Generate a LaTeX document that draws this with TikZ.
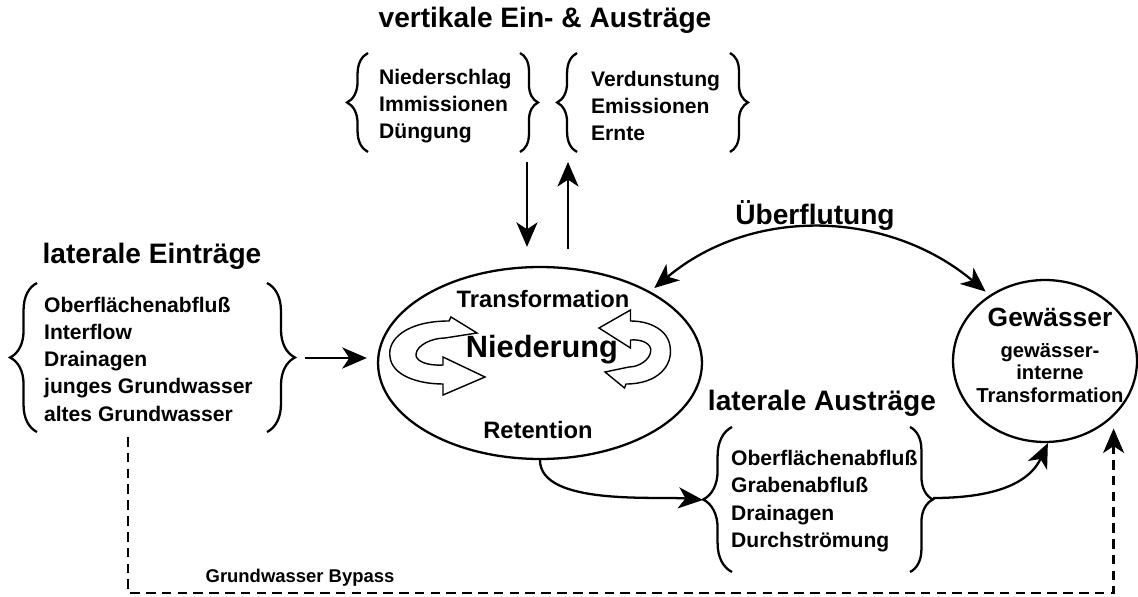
\documentclass[tikz,border=0pt]{standalone}
\usepackage{fontspec}
\setmainfont{Liberation Sans}
\usetikzlibrary{shapes.geometric,arrows.meta,decorations.pathreplacing}

\tikzset{
  titel/.style={font=\fontsize{16}{19}\selectfont\bfseries},
  liste/.style={align=left, anchor=west, inner sep=0pt,
    font=\fontsize{12}{15.5}\selectfont\bfseries},
  klammer/.style={decorate, decoration={brace, amplitude=#1}},
  gebiet/.style={ellipse, draw, inner sep=0pt},
  bypass/.style={dash pattern=on 5.5pt off 3.5pt, line width=1.4pt},
  twirl/.pic={
    \draw[fill=white, line width=0.8pt]
      (40,-24) -- (14,-40) -- (12,-36)
      .. controls (-30,-36) and (-50,-18) .. (-47,0)
      .. controls (-45,18) and (-20,27) .. (6,27)
      -- (6,38) -- (48,20) -- (6,0) -- (6,8)
      .. controls (-10,9) and (-22,4) .. (-21,-3)
      .. controls (-20,-12) and (-5,-19) .. (8,-19)
      -- cycle;
  }
}

\begin{document}
\begin{tikzpicture}[x=0.02cm, y=-0.02cm, line width=1.3pt,
    >={Stealth[length=14pt, width=12pt, inset=4pt]}]
  \useasboundingbox (0,0) rectangle (1138,597);

  % Niederung und Gewaesser
  \node[gebiet, minimum width=6.48cm, minimum height=3.84cm] (nied) at (540,363) {};
  \pic at (437,357) {twirl};
  \pic[xscale=-0.75, yscale=-1] at (635,348) {twirl};
  \node[font=\fontsize{13.5}{16}\selectfont\bfseries] (transf) at (543,299) {Transformation};
  \node[font=\fontsize{17.5}{20}\selectfont\bfseries] (niedText) at (542,350) {Niederung};
  \node[font=\fontsize{13.5}{16}\selectfont\bfseries] (ret) at (538,430) {Retention};

  \node[gebiet, minimum width=3.68cm, minimum height=3.24cm] (gew) at (1045,361) {};
  \node[font=\fontsize{15}{18}\selectfont\bfseries] (gewText) at (1050,317) {Gewässer};
  \node[align=center, font=\fontsize{11.5}{12.8}\selectfont\bfseries] (gewIntern)
    at (1050,373) {gewässer-\\interne\\Transformation};

  % vertikale Ein- & Austraege
  \node[titel] (vertTitel) at (545,20) {vertikale Ein- \& Austräge};
  \node[liste] (vEin) at (378,106) {Niederschlag\\Immissionen\\Düngung};
  \node[liste] (vAus) at (590,106) {Verdunstung\\Emissionen\\Ernte};
  \draw[klammer=11.9pt] (368,152) -- (368,53);
  \draw[klammer=10.2pt] (520,53) -- (520,152);
  \draw[klammer=11.3pt] (577,152) -- (577,53);
  \draw[klammer=10.2pt] (730,53) -- (730,152);
  \coordinate (vEinPfeil) at (527,162);
  \coordinate (vAusPfeil) at (568,162);
  \draw[->, shorten >=10.8pt] (vEinPfeil) -- (vEinPfeil |- nied.north);
  \draw[->, shorten <=9.6pt] (vAusPfeil |- nied.north) -- (vAusPfeil);

  % laterale Eintraege
  \node[titel] (einTitel) at (152,256) {laterale Einträge};
  \node[liste] (latEin) at (43,359)
    {Oberflächenabfluß\\Interflow\\Drainagen\\junges Grundwasser\\altes Grundwasser};
  \draw[klammer=15.3pt] (37,432) -- (37,283);
  \draw[klammer=15.9pt] (267,283) -- (267,432);
  \coordinate (latEinSpitze) at (295,358);
  \draw[->, shorten <=5.7pt, shorten >=5.7pt] (latEinSpitze) -- (latEinSpitze -| nied.west);

  % Ueberflutung
  \node[titel] (ueberfl) at (815,215) {Überflutung};
  \draw[<->, shorten <=3pt, shorten >=3pt] (nied.33) to[out=40, in=140] (gew.130);

  % laterale Austraege
  \node[titel] (ausTitel) at (822,403) {laterale Austräge};
  \node[liste] (latAus) at (730,501)
    {Oberflächenabfluß\\Grabenabfluß\\Drainagen\\Durchströmung};
  \draw[klammer=16.4pt] (732,572) -- (732,427);
  \draw[klammer=13pt] (910,427) -- (910,572);
  \coordinate (latAusL) at (703,500);
  \coordinate (latAusR) at (933,498);
  \draw[->] (nied.south) to[out=-90, in=175, looseness=0.7] (latAusL);
  \draw[->] (latAusR) to[out=0, in=-115] (gew.-88);

  % Grundwasser Bypass
  \coordinate (bpStart) at (128,437);
  \coordinate (bpEcke) at (128,593);
  \draw[bypass, ->, shorten >=6.8pt] (bpStart) -- (bpEcke) -| (gew.-39);
  \node[font=\fontsize{10.5}{12}\selectfont\bfseries] (bpText) at (300,578) {Grundwasser Bypass};
\end{tikzpicture}
\end{document}
